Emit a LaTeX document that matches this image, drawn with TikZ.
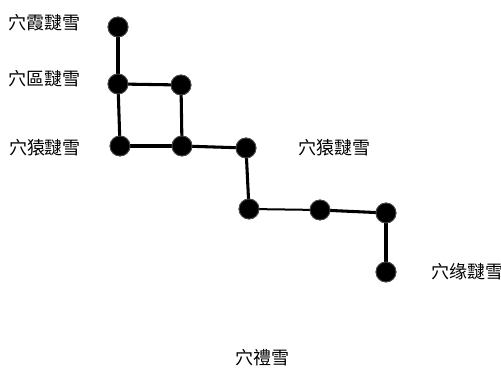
\documentclass[tikz,border=0pt]{standalone}
\usepackage{fontspec}
\newfontfamily\cjk{Noto Sans CJK SC}
\begin{document}
\begin{tikzpicture}[x=0.75pt,y=-0.75pt,
  dot/.style={circle,fill=black,draw=black!70,line width=0.6pt,minimum size=15pt,inner sep=0pt},
  link/.style={line width=2.3pt},
  thinlink/.style={line width=1.5pt},
  lbl/.style={font=\cjk\fontsize{13.5}{15}\selectfont,inner sep=0pt}]
\useasboundingbox (0,0) rectangle (501,373);
% junctions
\node[dot] (a) at (118,27) {};
\node[dot] (b) at (118,84) {};
\node[dot] (c) at (181,85) {};
\node[dot] (d) at (120,146) {};
\node[dot] (e) at (182,146) {};
\node[dot] (f) at (246,148) {};
\node[dot] (g) at (249,209) {};
\node[dot] (h) at (320,210) {};
\node[dot] (i) at (386,213) {};
\node[dot] (j) at (386,272) {};
% connections
\draw[link] (a.center) -- (b.center);
\draw[link] (b.center) -- (c.center);
\draw[link] (b.center) -- (d.center);
\draw[link] (c.center) -- (e.center);
\draw[link] (d.center) -- (e.center);
\draw[link] (e.center) -- (f.center);
\draw[link] (f.center) -- (g.center);
\draw[thinlink] (g.center) -- (h.center);
\draw[link] (h.center) -- (i.center);
\draw[link] (i.center) -- (j.center);
% redraw dots above the lines
\foreach \n in {a,b,c,d,e,f,g,h,i,j}{\node[dot] at (\n) {};}
% labels
\node[lbl] (la) at (44,23) {穴霞靆雪};
\node[lbl] (lb) at (44,79) {穴區靆雪};
\node[lbl] (lc) at (45,148) {穴猿靆雪};
\node[lbl] (ld) at (334,148) {穴猿靆雪};
\node[lbl] (le) at (467,272) {穴缘靆雪};
\node[lbl] (lf) at (262,358) {穴禮雪};
\end{tikzpicture}
\end{document}
